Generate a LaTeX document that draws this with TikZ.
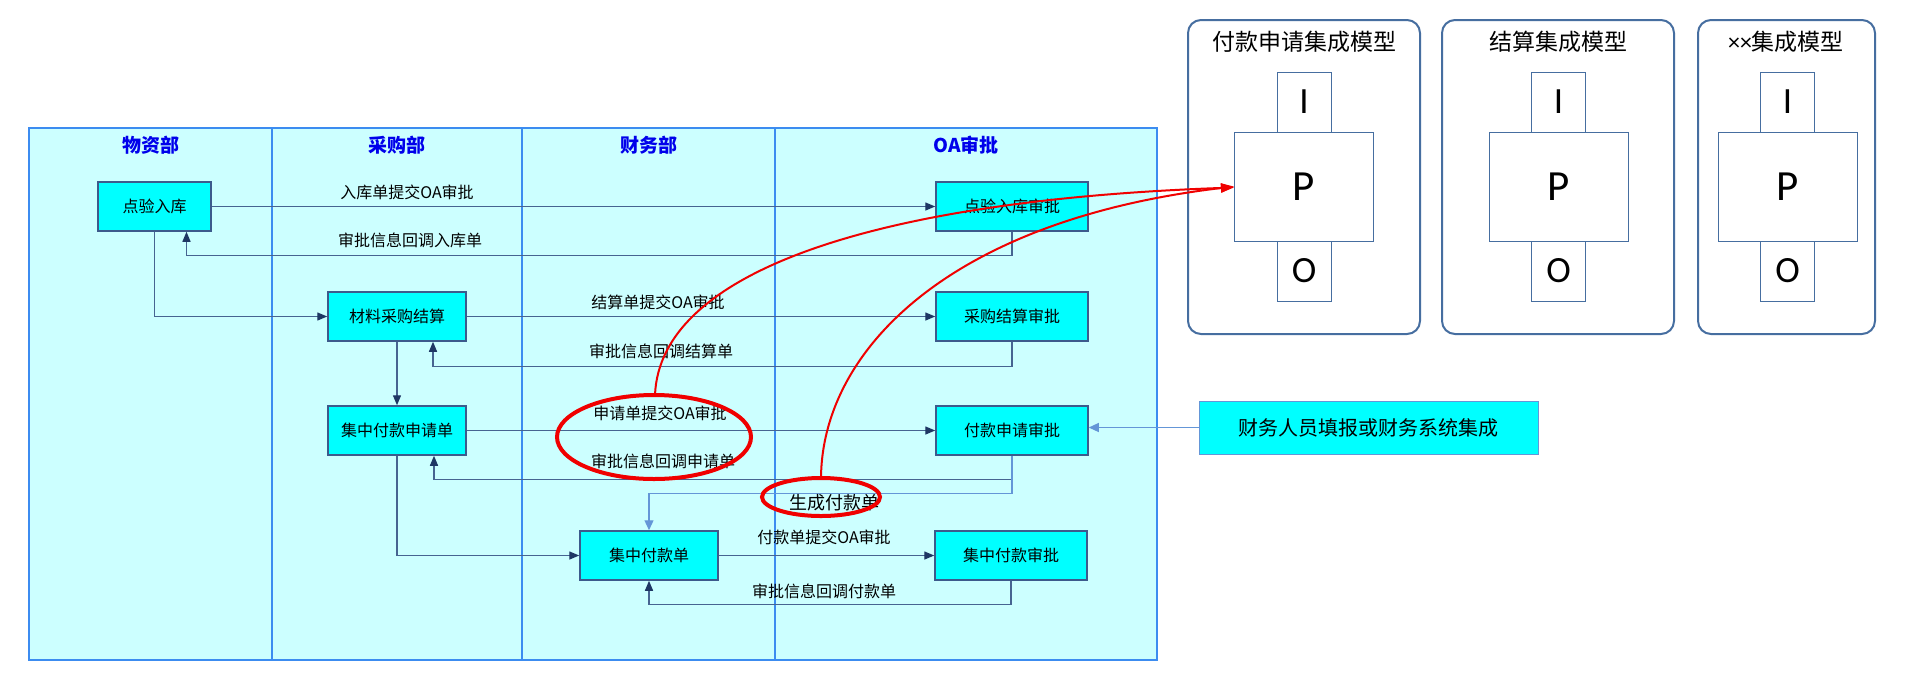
\documentclass[tikz,border=0pt]{standalone}
\usepackage{fontspec}
\setmainfont{Noto Sans CJK SC}
\newfontfamily\latinf{Carlito}
\usetikzlibrary{arrows.meta}
\definecolor{lanefill}{RGB}{204,255,255}
\definecolor{laneline}{RGB}{60,140,240}
\definecolor{boxfill}{RGB}{0,255,255}
\definecolor{boxline}{RGB}{60,90,140}
\definecolor{connc}{RGB}{70,100,145}
\definecolor{tipc}{RGB}{30,55,100}
\definecolor{lightc}{RGB}{100,150,215}
\definecolor{hdrc}{RGB}{0,0,235}
\definecolor{modline}{RGB}{70,110,160}
\definecolor{redc}{RGB}{240,0,0}
\tikzset{
  proc/.style={draw=boxline, fill=boxfill, line width=1.5pt, minimum height=49pt, inner sep=0pt, font=\fontsize{16pt}{16pt}\selectfont},
  hdr/.style={font=\fontsize{19pt}{19pt}\selectfont\bfseries, text=hdrc},
  lbl/.style={font=\fontsize{16pt}{16pt}\selectfont, inner sep=0pt},
  conn/.style={draw=connc, line width=1.4pt, -{Triangle[length=10pt,width=8pt,color=tipc]}},
  lconn/.style={draw=lightc, line width=1.2pt, -{Triangle[length=10pt,width=9pt,color=lightc]}},
  redarrow/.style={draw=redc, line width=2pt, -{Triangle[length=13pt,width=9pt,color=redc]}},
  redring/.style={draw=redc, line width=4pt},
  modbox/.style={draw=modline, line width=2pt, rounded corners=13pt},
  iobox/.style={draw=modline, line width=1pt, fill=white, inner sep=0pt, font=\latinf\fontsize{37pt}{37pt}\selectfont},
  mtitle/.style={font=\fontsize{23pt}{23pt}\selectfont, inner sep=0pt},
}
\begin{document}
\begin{tikzpicture}[x=1pt,y=-1pt]
\useasboundingbox[fill=white] (0,0) rectangle (1905,689);
% swimlanes
\fill[lanefill] (29,128) rectangle (1157,660);
\draw[laneline, line width=1.5pt] (29,128) rectangle (1157,660);
\draw[laneline, line width=1.5pt] (272,128) -- (272,660) (522,128) -- (522,660) (775,128) -- (775,660);
\node[hdr] (h1) at (151,145) {物资部};
\node[hdr] (h2) at (397,145) {采购部};
\node[hdr] (h3) at (649,145) {财务部};
\node[hdr] (h4) at (966,145) {OA审批};
% process nodes
\node[proc, minimum width=113pt] (n1) at (154.5,206.5) {点验入库};
\node[proc, minimum width=152pt] (n2) at (1012,206.5) {点验入库审批};
\node[proc, minimum width=138pt] (n3) at (397,316.5) {材料采购结算};
\node[proc, minimum width=152pt] (n4) at (1012,316.5) {采购结算审批};
\node[proc, minimum width=138pt] (n5) at (397,430.5) {集中付款申请单};
\node[proc, minimum width=152pt] (n6) at (1012,430.5) {付款申请审批};
\node[proc, minimum width=138pt] (n7) at (649,555.5) {集中付款单};
\node[proc, minimum width=152pt] (n8) at (1011,555.5) {集中付款审批};
\node[proc, minimum width=339pt, minimum height=53pt, line width=1pt, draw=lightc, font=\fontsize{20pt}{20pt}\selectfont] (ext) at (1368.5,427.5) {财务人员填报或财务系统集成};
% connectors
\draw[conn] (n1.east) -- (n2.west);
\draw[conn] (n2.south) -- ++(0,24) -| ([xshift=32pt]n1.south);
\draw[conn] (n1.south) |- (n3.west);
\draw[conn] (n3.east) -- (n4.west);
\draw[conn] (n4.south) -- ++(0,25) -| ([xshift=36pt]n3.south);
\draw[conn] (n3.south) -- (n5.north);
\draw[conn] (n5.east) -- (n6.west);
\draw[conn] (n6.south) -- ++(0,24) -| ([xshift=37pt]n5.south);
\draw[lconn] (n6.south) -- ++(0,38) -| (n7.north);
\draw[conn] (n5.south) |- (n7.west);
\draw[conn] (n7.east) -- (n8.west);
\draw[conn] (n8.south) -- ++(0,24) -| (n7.south);
\draw[lconn] (ext.west) -- (ext.west -| n6.east);
% labels
\node[lbl] (l1) at (407,192) {入库单提交OA审批};
\node[lbl] (l2) at (410,240) {审批信息回调入库单};
\node[lbl] (l3) at (658,302) {结算单提交OA审批};
\node[lbl] (l4) at (661,351) {审批信息回调结算单};
\node[lbl] (l5) at (660,413) {申请单提交OA审批};
\node[lbl] (l6) at (663,461) {审批信息回调申请单};
\node[lbl, font=\fontsize{18pt}{18pt}\selectfont] (l7) at (834,503) {生成付款单};
\node[lbl] (l8) at (824,537) {付款单提交OA审批};
\node[lbl] (l9) at (824,591) {审批信息回调付款单};
% integration models
\draw[modbox] (1188,20) rectangle (1420,334);
\draw[modbox] (1442,20) rectangle (1674,334);
\draw[modbox] (1698,20) rectangle (1875,334);
\node[mtitle] (t1) at (1304,42) {付款申请集成模型};
\node[mtitle] (t2) at (1558,42) {结算集成模型};
\node[mtitle] (t3) at (1786,42) {{\latinf\fontsize{24pt}{24pt}\selectfont ××}集成模型};
\foreach \cx/\k in {1304/a,1558.5/b,1787.5/c}{
  \node[iobox, minimum width=54pt, minimum height=60pt] (i\k) at (\cx,102) {I};
  \node[iobox, minimum width=54pt, minimum height=60pt] (o\k) at (\cx,271) {O};
  \node[iobox, minimum width=139pt, minimum height=109pt, font=\latinf\fontsize{43pt}{43pt}\selectfont] (p\k) at (\cx,186.5) {P};
}
% red highlights
\draw[redring] (654,437) ellipse [x radius=97, y radius=42];
\draw[redring] (821,497) ellipse [x radius=59, y radius=19];
\coordinate (r1) at (655,395);
\coordinate (r2) at (821,478);
\draw[redarrow] (r1) .. controls (660,270) and (880,200) .. ([yshift=-1pt]pa.west);
\draw[redarrow] (r2) .. controls (822,350) and (950,220) .. ([yshift=0pt]pa.west);
\end{tikzpicture}
\end{document}
